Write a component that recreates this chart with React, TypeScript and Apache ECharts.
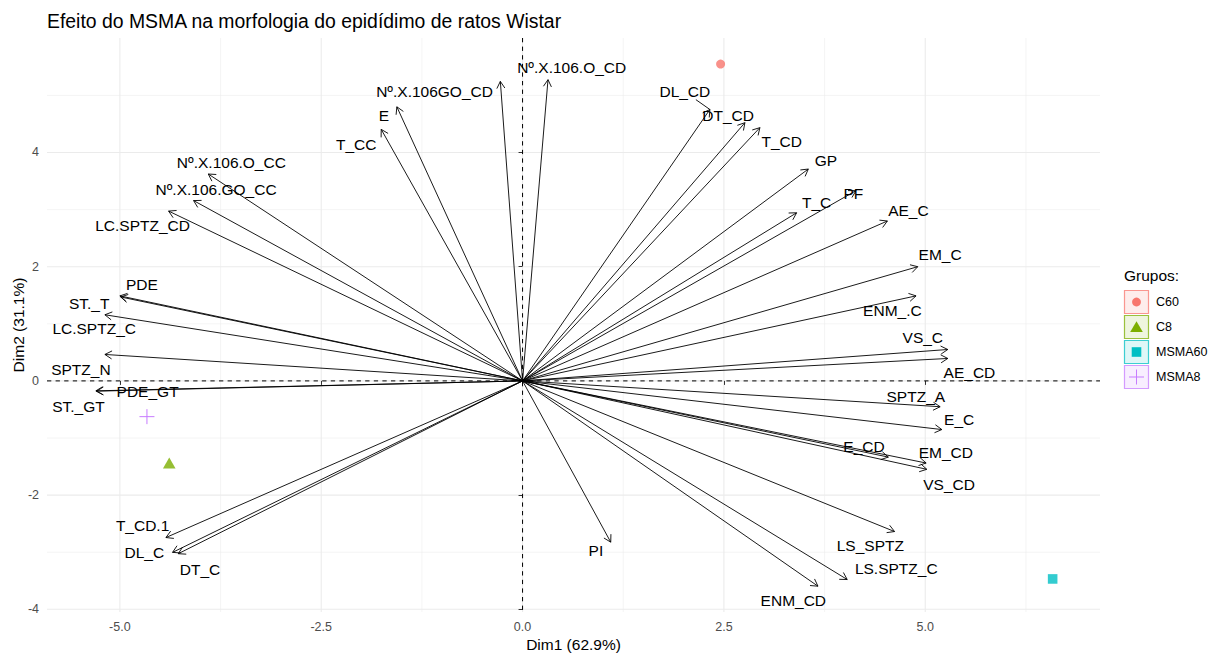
import React, { useEffect, useRef } from 'react';
import * as echarts from 'echarts';

const FONT = '"Liberation Sans", Arial, Helvetica, sans-serif';

const chartTitle = 'Efeito do MSMA na morfologia do epidídimo de ratos Wistar';
const xName = 'Dim1 (62.9%)';
const yName = 'Dim2 (31.1%)';

const variables = [
  'Nº.X.106GO_CD', 'Nº.X.106.O_CD', 'E', 'T_CC', 'Nº.X.106.O_CC', 'Nº.X.106.GO_CC',
  'LC.SPTZ_CD', 'PDE', 'ST._T', 'LC.SPTZ_C', 'SPTZ_N', 'PDE_GT', 'ST._GT',
  'T_CD.1', 'DL_C', 'DT_C', 'DL_CD', 'DT_CD', 'T_CD', 'GP', 'T_C', 'PF', 'AE_C',
  'EM_C', 'ENM_.C', 'VS_C', 'AE_CD', 'SPTZ_A', 'E_C', 'E_CD', 'EM_CD', 'VS_CD',
  'PI', 'LS_SPTZ', 'LS.SPTZ_C', 'ENM_CD',
];
const dim1 = [
  -0.276, 0.316, -1.561, -1.755, -3.902, -4.085,
  -4.395, -5.0, -4.99, -5.186, -5.186, -5.298, -5.29,
  -4.428, -4.346, -4.275, 2.326, 2.761, 2.947, 3.548, 3.403, 4.14, 4.53,
  4.907, 4.886, 5.28, 5.28, 5.185, 5.206, 4.542, 5.011, 5.019,
  1.095, 4.619, 4.031, 3.668,
];
const dim2 = [
  5.245, 5.275, 4.80, 4.405, 3.623, 3.158,
  2.974, 1.489, 1.47, 1.158, 0.463, -0.174, -0.18,
  -2.743, -3.003, -3.026, 4.753, 4.522, 4.435, 3.71, 2.944, 3.332, 2.80,
  2.0, 1.489, 0.55, 0.393, -0.452, -0.852, -1.334, -1.438, -1.548,
  -2.824, -2.638, -3.478, -3.595,
];
const labelDim1 = [
  -1.093, 0.61, -1.723, -2.066, -3.616, -3.806,
  -4.718, -4.726, -5.381, -5.319, -5.484, -4.656, -5.514,
  -4.718, -4.697, -4.005, 2.015, 2.553, 3.217, 3.768, 3.652, 4.107, 4.791,
  5.185, 4.592, 4.97, 5.549, 4.883, 5.421, 4.24, 5.255, 5.296,
  0.911, 4.318, 4.64, 3.362,
];
const labelDim2 = [
  5.066, 5.483, 4.649, 4.144, 3.826, 3.35,
  2.723, 1.697, 1.362, 0.91, 0.202, -0.191, -0.452,
  -2.539, -3.003, -3.304, 5.061, 4.649, 4.184, 3.866, 3.13, 3.287, 2.984,
  2.214, 1.235, 0.753, 0.144, -0.278, -0.678, -1.148, -1.247, -1.809,
  -2.974, -2.887, -3.277, -3.843,
];
// labels that the repel step joined to their arrow tip with a segment
const segmentLabels = ['DL_CD'];

const groups = ['C60', 'C8', 'MSMA60', 'MSMA8'];
const groupDim1 = [2.459, -4.387, 6.582, -4.664];
const groupDim2 = [5.548, -1.438, -3.468, -0.626];
const groupColors = ['#F8766D', '#7CAE00', '#00BFC4', '#C77CFF'];

const xTicks = [-5, -2.5, 0, 2.5, 5];
const xMinor = [-3.75, -1.25, 1.25, 3.75, 6.25];
const yTicks = [-4, -2, 0, 2, 4];
const yMinor = [-3, -1, 1, 3, 5];

const X_MIN = -5.905;
const X_MAX = 7.17;
const Y_MIN = -4.047;
const Y_MAX = 6.005;

const LABEL_SIZE = 15.5;

function rgba(hex: string, a: number) {
  const n = parseInt(hex.slice(1), 16);
  return `rgba(${(n >> 16) & 255},${(n >> 8) & 255},${n & 255},${a})`;
}

let measureCtx: CanvasRenderingContext2D | null = null;
function textWidth(t: string) {
  if (!measureCtx) {
    const c = document.createElement('canvas');
    measureCtx = c.getContext('2d');
  }
  if (!measureCtx) return t.length * LABEL_SIZE * 0.6;
  measureCtx.font = `${LABEL_SIZE}px ${FONT}`;
  return measureCtx.measureText(t).width;
}

export default function App() {
  const ref = useRef<HTMLDivElement>(null);
  useEffect(() => {
    document.body.style.margin = '0';
    if (!ref.current) return;
    const chart = echarts.init(ref.current, undefined, { renderer: 'svg' });

    const gridData: number[][] = [
      ...xTicks.map((v) => [0, v, 1]),
      ...xMinor.map((v) => [0, v, 0]),
      ...yTicks.map((v) => [1, v, 1]),
      ...yMinor.map((v) => [1, v, 0]),
    ];

    const legendChildren: any[] = [
      {
        type: 'text', x: 1124, y: 275,
        style: { text: 'Grupos:', fill: '#000', fontSize: 15.5, fontFamily: FONT, verticalAlign: 'middle', align: 'left' },
      },
    ];
    const rowY = [302, 327, 352, 377];
    const kx = 1136.5;
    groups.forEach((g, i) => {
      const cy = rowY[i];
      const c = groupColors[i];
      legendChildren.push({
        type: 'rect', shape: { x: 1124.5, y: cy - 11.5, width: 24, height: 23 },
        style: { fill: rgba(c, 0.13), stroke: rgba(c, 0.75), lineWidth: 1.2 },
      });
      if (i === 0) {
        legendChildren.push({ type: 'circle', shape: { cx: kx, cy, r: 4.4 }, style: { fill: c } });
      } else if (i === 1) {
        legendChildren.push({
          type: 'polygon', shape: { points: [[kx, cy - 5.8], [kx - 6.3, cy + 5], [kx + 6.3, cy + 5]] },
          style: { fill: c },
        });
      } else if (i === 2) {
        legendChildren.push({ type: 'rect', shape: { x: kx - 4.8, y: cy - 4.8, width: 9.6, height: 9.6 }, style: { fill: c } });
      } else {
        legendChildren.push({ type: 'line', shape: { x1: kx - 7.5, y1: cy, x2: kx + 7.5, y2: cy }, style: { stroke: c, lineWidth: 1 } });
        legendChildren.push({ type: 'line', shape: { x1: kx, y1: cy - 7.5, x2: kx, y2: cy + 7.5 }, style: { stroke: c, lineWidth: 1 } });
      }
      legendChildren.push({
        type: 'text', x: 1156, y: cy,
        style: { text: g, fill: '#000', fontSize: 12.5, fontFamily: FONT, verticalAlign: 'middle', align: 'left' },
      });
    });

    const option: any = {
      animation: false,
      backgroundColor: '#fff',
      title: {
        text: chartTitle, left: 47, top: 11, padding: 0,
        textStyle: { fontSize: 19.4, fontWeight: 'normal', color: '#000', fontFamily: FONT, lineHeight: 20 },
      },
      grid: { left: 47, right: 114, top: 38, bottom: 41, containLabel: false },
      xAxis: {
        type: 'value', min: X_MIN, max: X_MAX,
        axisLine: { show: false },
        axisTick: { show: true, customValues: xTicks, length: 4, lineStyle: { color: '#333', width: 1 } },
        axisLabel: {
          customValues: xTicks, formatter: (v: number) => v.toFixed(1),
          color: '#4D4D4D', fontSize: 12.5, fontFamily: FONT, margin: 8,
        },
        splitLine: { show: false },
        name: xName, nameLocation: 'middle', nameGap: 24, nameMoveOverlap: false,
        nameTextStyle: { color: '#000', fontSize: 15.5, fontFamily: FONT },
      },
      yAxis: {
        type: 'value', min: Y_MIN, max: Y_MAX,
        axisLine: { show: false },
        axisTick: { show: true, customValues: yTicks, length: 4, lineStyle: { color: '#333', width: 1 } },
        axisLabel: {
          customValues: yTicks, formatter: (v: number) => String(v),
          color: '#4D4D4D', fontSize: 12.5, fontFamily: FONT, margin: 8,
        },
        splitLine: { show: false },
        name: yName, nameLocation: 'middle', nameGap: 21, nameMoveOverlap: false,
        nameTextStyle: { color: '#000', fontSize: 15.5, fontFamily: FONT },
      },
      graphic: [{ type: 'group', children: legendChildren }],
      series: [
        {
          type: 'custom', name: 'grid', silent: true, z: 0, clip: false,
          data: gridData,
          renderItem: (params: any, api: any) => {
            const cs = params.coordSys;
            const dir = api.value(0);
            const v = api.value(1);
            const major = api.value(2) === 1;
            const style = { stroke: '#EBEBEB', lineWidth: major ? 1.07 : 0.55 };
            if (dir === 0) {
              const p = api.coord([v, 0]);
              return { type: 'line', shape: { x1: p[0], y1: cs.y, x2: p[0], y2: cs.y + cs.height }, style };
            }
            const p = api.coord([0, v]);
            return { type: 'line', shape: { x1: cs.x, y1: p[1], x2: cs.x + cs.width, y2: p[1] }, style };
          },
        },
        {
          type: 'custom', name: 'zero', silent: true, z: 1, clip: false,
          data: [[0, 0], [1, 0]],
          renderItem: (params: any, api: any) => {
            const cs = params.coordSys;
            const dir = api.value(0);
            const p = api.coord([0, 0]);
            const style = { stroke: '#000', lineWidth: 1, lineDash: [4.3, 4.3] };
            if (dir === 0) {
              return { type: 'line', shape: { x1: p[0], y1: cs.y, x2: p[0], y2: cs.y + cs.height }, style };
            }
            return { type: 'line', shape: { x1: cs.x, y1: p[1], x2: cs.x + cs.width, y2: p[1] }, style };
          },
        },
        {
          type: 'custom', name: 'arrows', silent: true, z: 2, clip: false,
          data: variables.map((n, i) => ({ name: n, value: [dim1[i], dim2[i]] })),
          renderItem: (params: any, api: any) => {
            const o = api.coord([0, 0]);
            const p = api.coord([api.value(0), api.value(1)]);
            const ang = Math.atan2(p[1] - o[1], p[0] - o[0]);
            const L = 8;
            const A = Math.PI / 6;
            const h1 = [p[0] - L * Math.cos(ang - A), p[1] - L * Math.sin(ang - A)];
            const h2 = [p[0] - L * Math.cos(ang + A), p[1] - L * Math.sin(ang + A)];
            return {
              type: 'group',
              children: [
                { type: 'line', shape: { x1: o[0], y1: o[1], x2: p[0], y2: p[1] }, style: { stroke: '#000', lineWidth: 0.9 } },
                { type: 'polyline', shape: { points: [h1, p, h2] }, style: { stroke: '#000', lineWidth: 0.9, fill: null } },
              ],
            };
          },
        },
        {
          type: 'custom', name: 'labels', silent: true, z: 3, clip: false,
          data: variables.map((n, i) => ({ name: n, value: [labelDim1[i], labelDim2[i], dim1[i], dim2[i]] })),
          renderItem: (params: any, api: any) => {
            const name = variables[params.dataIndex];
            const p = api.coord([api.value(0), api.value(1)]);
            const children: any[] = [
              {
                type: 'text', x: p[0], y: p[1],
                style: {
                  text: name, fill: '#000', fontSize: LABEL_SIZE, fontFamily: FONT,
                  align: 'center', verticalAlign: 'middle',
                },
              },
            ];
            if (segmentLabels.indexOf(name) >= 0) {
              const tip = api.coord([api.value(2), api.value(3)]);
              const dx = tip[0] - p[0];
              const dy = tip[1] - p[1];
              const hw = textWidth(name) / 2 + 1;
              const hh = LABEL_SIZE / 2;
              const t = Math.min(Math.abs(dx) > 0 ? hw / Math.abs(dx) : 1e9, Math.abs(dy) > 0 ? hh / Math.abs(dy) : 1e9);
              if (t < 1) {
                children.push({
                  type: 'line',
                  shape: { x1: p[0] + dx * t, y1: p[1] + dy * t, x2: tip[0], y2: tip[1] },
                  style: { stroke: '#000', lineWidth: 0.9 },
                });
              }
            }
            return { type: 'group', children };
          },
        },
        {
          type: 'scatter', name: 'Grupos', silent: true, z: 4,
          data: groups.slice(0, 3).map((g, i) => ({
            name: g,
            value: [groupDim1[i], groupDim2[i]],
            symbol: ['circle', 'triangle', 'rect'][i],
            symbolSize: [9, [12.6, 11], 9.6][i],
            itemStyle: { color: groupColors[i] },
          })),
        },
        {
          type: 'custom', name: 'MSMA8', silent: true, z: 4, clip: false,
          data: [[groupDim1[3], groupDim2[3]]],
          renderItem: (params: any, api: any) => {
            const p = api.coord([api.value(0), api.value(1)]);
            const s = 7.5;
            const style = { stroke: groupColors[3], lineWidth: 1 };
            return {
              type: 'group',
              children: [
                { type: 'line', shape: { x1: p[0] - s, y1: p[1], x2: p[0] + s, y2: p[1] }, style },
                { type: 'line', shape: { x1: p[0], y1: p[1] - s, x2: p[0], y2: p[1] + s }, style },
              ],
            };
          },
        },
      ],
    };
    chart.setOption(option);
    return () => chart.dispose();
  }, []);
  return <div ref={ref} style={{ width: 1214, height: 657 }} />;
}
